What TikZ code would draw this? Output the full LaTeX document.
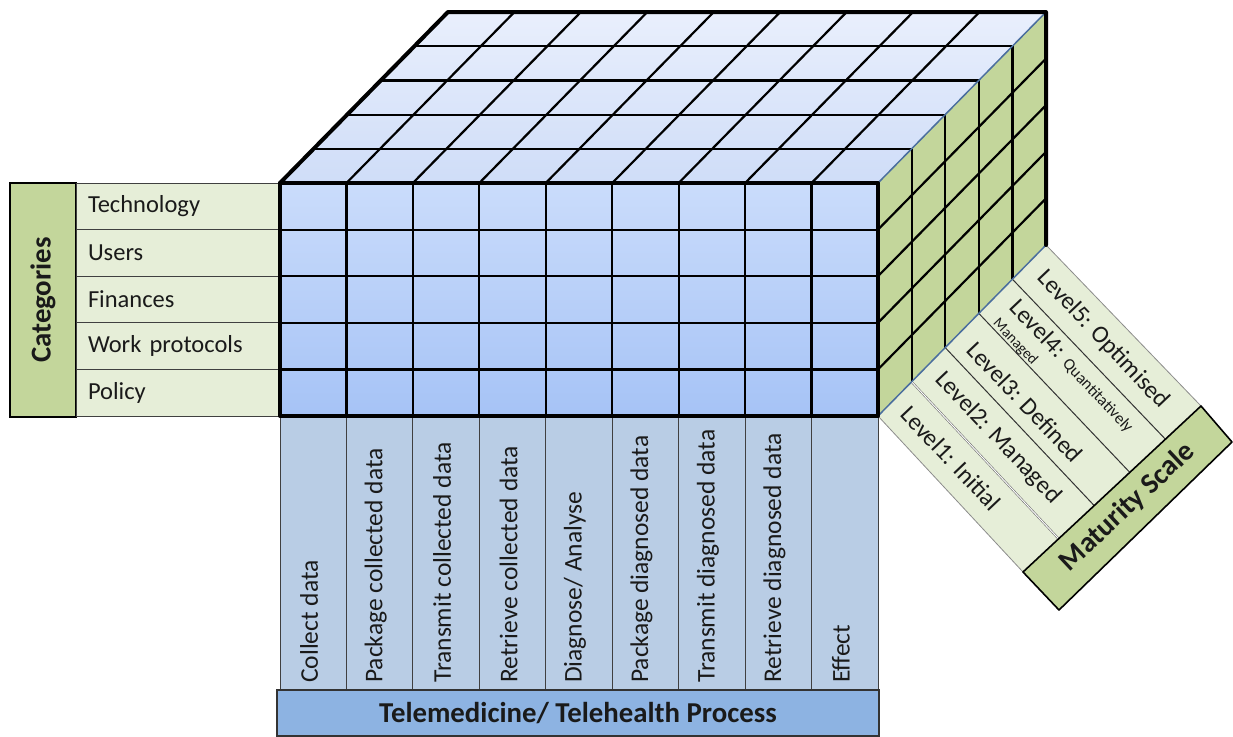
\documentclass[tikz,border=0pt]{standalone}
\usepackage{fontspec}
\setmainfont{Carlito}
\usetikzlibrary{calc}
\definecolor{fronttop}{HTML}{CADCFB}
\definecolor{frontbot}{HTML}{A6C3F6}
\definecolor{toptop}{HTML}{E9EFFC}
\definecolor{topbot}{HTML}{CFDDF8}
\definecolor{sidegreen}{HTML}{C3D69B}
\definecolor{palegreen}{HTML}{E6EED8}
\definecolor{colblue}{HTML}{B9CDE5}
\definecolor{barblue}{HTML}{8DB3E2}
\definecolor{edgeblue}{HTML}{4A6E9E}
\definecolor{txt}{HTML}{1A1A1A}
\begin{document}
\begin{tikzpicture}[x=1pt,y=1pt,
  normtext/.style={font=\fontsize{24.5}{28}\selectfont, text=txt},
  boldtext/.style={font=\fontsize{28.8}{32}\selectfont\bfseries, text=txt},
  gridline/.style={line width=2.2pt, black},
  thickedge/.style={line width=4pt, black, line join=round, line cap=round},
  catitem/.style={normtext, draw=black!75, line width=1pt, fill=palegreen, text width=180pt, align=left, inner xsep=12pt, inner ysep=0pt, minimum height=46.6pt, anchor=north west, outer sep=0pt},
  colbox/.style={draw=black!75, line width=1pt, fill=colblue, minimum width=66.444pt, minimum height=274pt, anchor=north west, inner sep=0pt, outer sep=0pt},
  coltext/.style={font=\fontsize{25.5}{28}\selectfont, text=txt, rotate=90, anchor=west, inner sep=0pt},
  striptext/.style={normtext, rotate=-46.5, anchor=west, inner sep=0pt},
  stripline/.style={draw=black!80, line width=1pt}
]
\useasboundingbox (0,0) rectangle (1233,-736);

% ---- bottom process columns
\foreach \i in {0,...,8} { \node[colbox] (c\i) at ({280+\i*66.444},-416) {}; }
\node[coltext] (ct0) at ($(c0.south)+(-4,7)$) {Collect data};
\node[coltext] (ct1) at ($(c1.south)+(-4,7)$) {Package collected data};
\node[coltext] (ct2) at ($(c2.south)+(-4,7)$) {Transmit collected data};
\node[coltext] (ct3) at ($(c3.south)+(-4,7)$) {Retrieve collected data};
\node[coltext] (ct4) at ($(c4.south)+(-4,7)$) {Diagnose/ Analyse};
\node[coltext] (ct5) at ($(c5.south)+(-4,7)$) {Package diagnosed data};
\node[coltext] (ct6) at ($(c6.south)+(-4,7)$) {Transmit diagnosed data};
\node[coltext] (ct7) at ($(c7.south)+(-4,7)$) {Retrieve diagnosed data};
\node[coltext] (ct8) at ($(c8.south)+(-4,7)$) {Effect};
\node[boldtext, draw=black!80, line width=1.4pt, fill=barblue, minimum width=602pt, minimum height=46pt, inner sep=0pt] (bar) at (578,-713) {Telemedicine/ Telehealth Process};

% ---- categories
\node[boldtext, draw=black, line width=1.6pt, fill=sidegreen, rotate=90, minimum width=234pt, minimum height=66pt, inner sep=0pt] (cat) at (43,-300) {Categories};
\node[catitem] (tech) at (76,-183) {Technology};
\node[catitem] (users) at (76,-229.6) {Users};
\node[catitem] (fin) at (76,-276.2) {Finances};
\node[catitem] (work) at (76,-322.8) {Work protocols};
\node[catitem] (pol) at (76,-369.4) {Policy};

% ---- cube faces
\shade[top color=toptop, bottom color=topbot] (280,-183) -- (878,-183) -- (1046,-12) -- (448,-12) -- cycle;
\fill[sidegreen] (878,-183) -- (1046,-12) -- (1046,-245) -- (878,-416) -- cycle;
\shade[top color=fronttop, bottom color=frontbot] (280,-183) rectangle (878,-416);

% ---- grid lines
\foreach \i in {1,...,8} {
  \draw[gridline] ({280+\i*66.444},-183) -- ++(0,-233);
  \draw[gridline] ({280+\i*66.444},-183) -- ++(168,171);
}
\foreach \j in {1,...,4} {
  \draw[gridline] (280,{-183-\j*46.6}) -- (878,{-183-\j*46.6});
  \draw[gridline] (878,{-183-\j*46.6}) -- ++(168,171);
  \draw[gridline] ({280+\j*33.6},{-183+\j*34.2}) -- ++(598,0);
  \draw[gridline] ({878+\j*33.6},{-183+\j*34.2}) -- ++(0,-233);
}

% ---- maturity scale strips
\coordinate (P0) at (878,-416);
\coordinate (P5) at (1046,-245);
\coordinate (A) at (1023,-572);
\coordinate (B) at (1201,-406);
\coordinate (C) at (1232,-442);
\coordinate (D) at (1059,-610);
\fill[palegreen] (P0) -- (A) -- (B) -- (P5) -- cycle;
\draw[draw=black!45, line width=0.8pt] (P0) -- (A);
\draw[draw=black!45, line width=0.8pt] (P5) -- (B);
\draw[draw=black!55, line width=0.6pt, double=white, double distance=0.9pt] ($(P0)!0.2!(P5)$) -- ($(A)!0.2!(B)$);
\foreach \f in {0.4,0.6,0.8} { \draw[stripline] ($(P0)!\f!(P5)$) -- ($(A)!\f!(B)$); }
\foreach \n/\f in {1/0.1,2/0.3,3/0.5,4/0.7,5/0.9} {
  \coordinate (s\n a) at ($(P0)!\f!(P5)$);
  \coordinate (s\n b) at ($(A)!\f!(B)$);
}
\node[striptext] (l1) at ($(s1a)!0.07!(s1b)$) {Level1: Initial};
\node[striptext] (l2) at ($(s2a)!0.07!(s2b)$) {Level2: Managed};
\node[striptext] (l3) at ($($(s3a)!0.08!(s3b)$)+(-2.5,-2.5)$) {Level3: Defined};
\node[striptext, align=left] (l4) at ($($(s4a)!0.08!(s4b)$)+(-2.1,-2.1)$) {Level4: {\fontsize{16.5}{16}\selectfont Quantitatively}\\[-6pt]{\fontsize{15}{15}\selectfont Managed}};
\node[striptext] (l5) at ($(s5a)!0.075!(s5b)$) {Level5: Optimised};
\draw[fill=sidegreen, line width=1.6pt, line join=round] (A) -- (B) -- (C) -- (D) -- cycle;
\node[boldtext, rotate=43.2] (ms) at ($(A)!0.5!(C)$) {Maturity Scale};

% ---- cube edges
\draw[edgeblue, line width=1.5pt] (878,-183) -- (1046,-12);
\draw[edgeblue, line width=1.5pt] (P0) -- (P5);
\draw[thickedge] (280,-183) -- (448,-12) -- (1046,-12) -- (1046,-245);
\draw[thickedge] (280,-183) rectangle (878,-416);
\end{tikzpicture}
\end{document}
